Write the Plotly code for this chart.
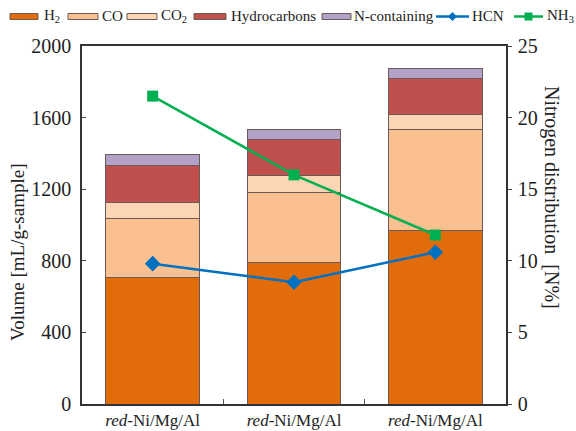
import plotly.graph_objects as go

categories = ["<i>red</i>-Ni/Mg/Al<br>(10/67/23)", "<i>red</i>-Ni/Mg/Al<br>(19/40/41)", "<i>red</i>-Ni/Mg/Al<br>(11/22/66)"]
h2 = [709, 793, 967]
co = [330, 386, 564]
co2 = [89, 95, 84]
hydrocarbons = [207, 206, 201]
n_containing = [60, 51, 56]
hcn = [9.8, 8.5, 10.6]
nh3 = [21.5, 16.0, 11.8]

FONT = "Liberation Serif"
W, H = 576, 431
ML, MR, MT, MB = 82, 70, 46, 27
PW, PH = W - ML - MR, H - MT - MB


def px(x):
    return (x - ML) / PW


def py(y):
    return (H - MB - y) / PH


fig = go.Figure()
bar_series = [
    ("H<sub>2</sub>", h2, "#E36C0A"),
    ("CO", co, "#FAC090"),
    ("CO<sub>2</sub>", co2, "#FCD5B5"),
    ("Hydrocarbons", hydrocarbons, "#C0504D"),
    ("N-containing", n_containing, "#B3A2C7"),
]
for name, vals, col in bar_series:
    fig.add_trace(go.Bar(x=categories, y=vals, name=name,
                         marker=dict(color=col, line=dict(color="#6b5a55", width=1)), width=0.665))

fig.add_trace(go.Scatter(x=categories, y=hcn, name="HCN", yaxis="y2", mode="lines+markers",
                         line=dict(color="#0070C0", width=2.5),
                         marker=dict(symbol="diamond", size=12, color="#0070C0")))
fig.add_trace(go.Scatter(x=categories, y=nh3, name="NH<sub>3</sub>", yaxis="y2", mode="lines+markers",
                         line=dict(color="#00B050", width=2.5),
                         marker=dict(symbol="square", size=11, color="#00B050")))

# manual legend (single row, as in the reference)
shapes = []
annotations = []
LY = 16.5
swatch_pos = [(10, 38, 42), (68, 98, 100), (127, 157, 159), (194, 226, 229), (322, 351, 352)]
for (x0, x1, tx), (name, _, col) in zip(swatch_pos, bar_series):
    shapes.append(dict(type="rect", xref="paper", yref="paper", x0=px(x0), x1=px(x1),
                       y0=py(LY + 3), y1=py(LY - 3), fillcolor=col, line=dict(color="#6b5a55", width=1)))
    annotations.append(dict(text=name, xref="paper", yref="paper", x=px(tx), y=py(LY), xanchor="left",
                            yanchor="middle", showarrow=False, font=dict(size=15, family=FONT, color="#222")))

line_items = [("HCN", "#0070C0", "diamond", 436, 469, 470), ("NH<sub>3</sub>", "#00B050", "square", 514, 543, 545)]
for name, col, sym, x0, x1, tx in line_items:
    shapes.append(dict(type="line", xref="paper", yref="paper", x0=px(x0), x1=px(x1), y0=py(LY), y1=py(LY),
                       line=dict(color=col, width=2.5)))
    cx = (x0 + x1) / 2
    if sym == "diamond":
        path = "M {},{} L {},{} L {},{} L {},{} Z".format(px(cx - 4.5), py(LY), px(cx), py(LY - 4.5),
                                                           px(cx + 4.5), py(LY), px(cx), py(LY + 4.5))
        shapes.append(dict(type="path", xref="paper", yref="paper", path=path, fillcolor=col, line=dict(color=col, width=0)))
    else:
        shapes.append(dict(type="rect", xref="paper", yref="paper", x0=px(cx - 4), x1=px(cx + 4),
                           y0=py(LY + 4), y1=py(LY - 4), fillcolor=col, line=dict(color=col, width=0)))
    annotations.append(dict(text=name, xref="paper", yref="paper", x=px(tx), y=py(LY), xanchor="left",
                            yanchor="middle", showarrow=False, font=dict(size=15, family=FONT, color="#222")))

annotations += [
    dict(text="Volume [mL/g-sample]", xref="paper", yref="paper", x=px(17), y=py(253), textangle=-90,
         showarrow=False, font=dict(size=19, family=FONT, color="#222"), xanchor="center", yanchor="middle"),
    dict(text="Nitrogen distribution \u00a0[N%]", xref="paper", yref="paper", x=px(552), y=py(197), textangle=90,
         showarrow=False, font=dict(size=20, family=FONT, color="#222"), xanchor="center", yanchor="middle"),
]

fig.update_layout(
    width=W, height=H,
    barmode="stack",
    showlegend=False,
    plot_bgcolor="white", paper_bgcolor="white",
    font=dict(family=FONT, size=16, color="#222"),
    margin=dict(l=ML, r=MR, t=MT, b=MB, autoexpand=False),
    xaxis=dict(showline=True, linecolor="#333", linewidth=1.5, mirror=True, ticks="inside", tickson="boundaries",
               ticklen=5, tickcolor="#555", tickfont=dict(size=17, family=FONT, color="#222"), showgrid=False,
               automargin=False),
    yaxis=dict(range=[0, 2000], tickvals=[0, 400, 800, 1200, 1600, 2000], showline=True, linecolor="#333",
               linewidth=1.5, ticks="inside", ticklen=4, showgrid=False, automargin=False, ticklabelstandoff=5,
               tickfont=dict(size=20, family=FONT, color="#222"), zeroline=False),
    yaxis2=dict(range=[0, 25], tickvals=[0, 5, 10, 15, 20, 25], overlaying="y", side="right", showline=True,
                linecolor="#333", linewidth=1.5, ticks="outside", ticklen=4, showgrid=False, automargin=False,
                ticklabelstandoff=2,
                tickfont=dict(size=20, family=FONT, color="#222"), zeroline=False),
    shapes=shapes,
    annotations=annotations,
)
fig.write_html("out.html", config={"displayModeBar": False},
               post_script="document.body.style.margin='0';document.body.style.overflow='hidden';")
